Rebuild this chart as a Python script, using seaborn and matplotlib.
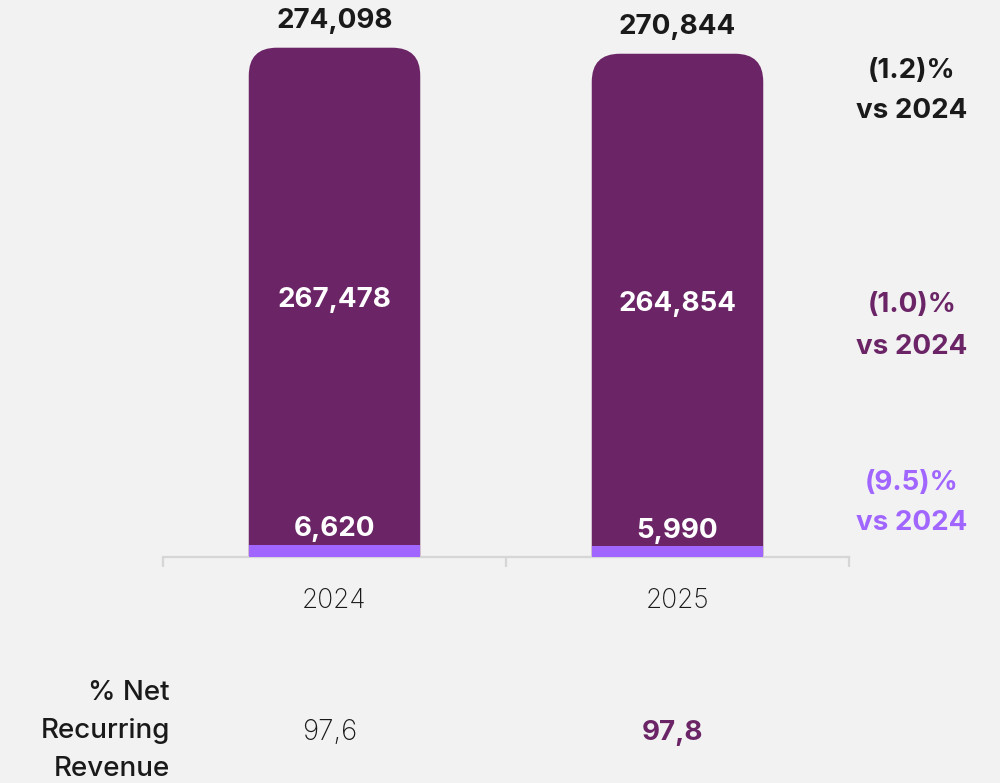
import matplotlib
matplotlib.use("Agg")
import matplotlib.pyplot as plt
from matplotlib.patches import FancyBboxPatch
import seaborn as sns
import pandas as pd

# Revenue split per year
years = ["2024", "2025"]
recurring = [267478, 264854]
non_recurring = [6620, 5990]
totals = [274098, 270844]
change_labels = ["(1.2)%\nvs 2024", "(1.0)%\nvs 2024", "(9.5)%\nvs 2024"]
nrr_pct = ["97,6", "97,8"]

DARK = "#6B2567"
LIGHT = "#A066FF"
BG = "#F2F2F2"
AXIS = "#D6D6D6"
INK = "#1A1A1A"

sns.set_theme(style="white")
plt.rcParams["font.family"] = ["Inter", "DejaVu Sans"]

df = pd.DataFrame({"year": years, "total": totals, "non_recurring": non_recurring})

fig = plt.figure(figsize=(10, 7.83), dpi=100, facecolor=BG)
W, H = 1000, 783
base_px, top_px = 557, 47.7
ax = fig.add_axes([163 / W, 1 - base_px / H, 686 / W, base_px / H])
ax.set_facecolor(BG)

sns.barplot(data=df, x="year", y="total", color=DARK, width=0.5,
            saturation=1, linewidth=0, edgecolor="none", ax=ax, zorder=2)
sns.barplot(data=df, x="year", y="non_recurring", color=LIGHT, width=0.5,
            saturation=1, linewidth=0, edgecolor="none", ax=ax, zorder=3)

ymax = max(totals) * base_px / (base_px - top_px)
ax.set_xlim(-0.5, 1.5)
ax.set_ylim(0, ymax)

# Swap the total bars for versions with rounded top corners
x_per_px = 2 / 686
y_per_px = ymax / base_px
radius_px = 28
dark_bars = list(ax.patches[:len(years)])
for bar in dark_bars:
    x0, w, h = bar.get_x(), bar.get_width(), bar.get_height()
    bar.remove()
    rounded = FancyBboxPatch(
        (x0, -0.3 * ymax), w, h + 0.3 * ymax,
        boxstyle=f"round,pad=0,rounding_size={radius_px * x_per_px}",
        mutation_aspect=y_per_px / x_per_px,
        facecolor=DARK, edgecolor="none", linewidth=0, zorder=2)
    ax.add_patch(rounded)

# Axis styling: only a light baseline with boundary ticks
for side in ["left", "right", "top"]:
    ax.spines[side].set_visible(False)
ax.spines["bottom"].set_color(AXIS)
ax.spines["bottom"].set_linewidth(1.6)
ax.set_yticks([])
ax.set_xlabel("")
ax.set_ylabel("")
ax.set_xticks([-0.5, 0.5, 1.5], minor=True)
ax.tick_params(axis="x", which="minor", length=7, width=1.6, color=AXIS,
               direction="out", bottom=True)
ax.tick_params(axis="x", which="major", length=0, pad=22, labelsize=19,
               labelcolor=INK)
for lbl in ax.get_xticklabels():
    lbl.set_fontweight("light")

# Value labels
for i in range(len(years)):
    ax.annotate(f"{totals[i]:,}", (i, totals[i]), xytext=(0, 19.5),
                textcoords="offset points", ha="center", va="center",
                fontsize=20, fontweight="bold", color=INK, annotation_clip=False)
    ax.annotate(f"{recurring[i]:,}", (i, non_recurring[i] + recurring[i] / 2),
                xytext=(0, -3), textcoords="offset points",
                ha="center", va="center", fontsize=20, fontweight="bold",
                color="white", zorder=5)
    ax.annotate(f"{non_recurring[i]:,}", (i, non_recurring[i]), xytext=(0, 11),
                textcoords="offset points", ha="center", va="center",
                fontsize=20, fontweight="bold", color="white", zorder=5)

# Year-over-year change column
change_colors = [INK, DARK, LIGHT]
change_y = [91, 326, 503]
for txt, col, yp in zip(change_labels, change_colors, change_y):
    fig.text(912 / W, 1 - yp / H, txt, ha="center", va="center", fontsize=20,
             fontweight="bold", color=col, linespacing=1.75)

# Net recurring revenue share row
fig.text(170 / W, 1 - 731 / H, "% Net\nRecurring\nRevenue", ha="right",
         va="center", fontsize=20, fontweight="medium", color=INK,
         linespacing=1.6)
pct_colors = [INK, DARK]
pct_weights = ["light", "bold"]
for i, (p, col, wt) in enumerate(zip(nrr_pct, pct_colors, pct_weights)):
    xd = ax.transData.transform((i, 0))[0]
    xf = fig.transFigure.inverted().transform((xd, 0))[0]
    fig.text(xf - 5 / W, 1 - 733 / H, p, ha="center", va="center",
             fontsize=20, fontweight=wt, color=col)

fig.savefig("out.png", dpi=100, facecolor=BG)
